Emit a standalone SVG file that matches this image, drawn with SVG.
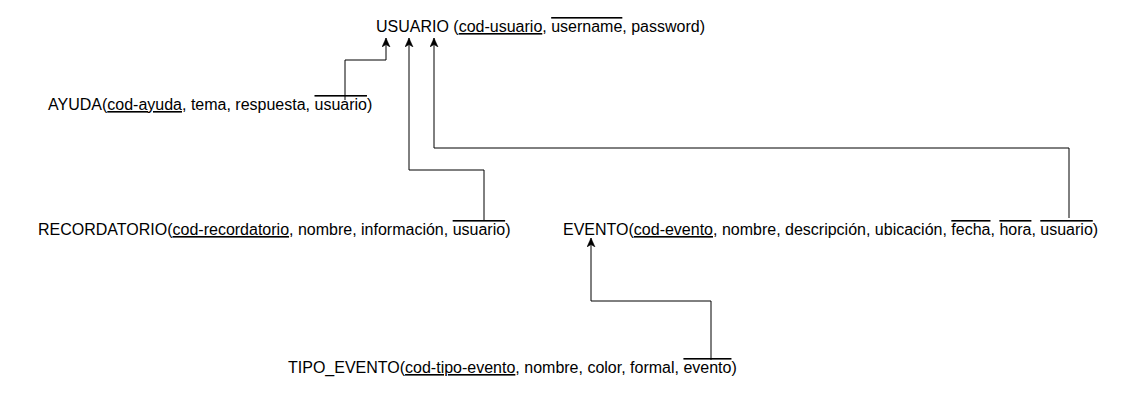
<svg xmlns="http://www.w3.org/2000/svg" width="1129" height="409" viewBox="0 0 1129 409">
<style>
text{font-family:"Liberation Sans",Arial,sans-serif;font-size:16px;fill:#000}
.u{text-decoration:underline}
.o{text-decoration:overline}
.c{fill:none;stroke:#000;stroke-width:1}
</style>
<defs>
<marker id="arr" markerUnits="userSpaceOnUse" markerWidth="10" markerHeight="10" refX="9" refY="4" orient="auto">
<path d="M0,0 L9,4 L0,8 L2.5,4 Z" fill="#000" stroke="#000" stroke-width="0.5"/>
</marker>
</defs>
<rect width="1129" height="409" fill="#fff"/>
<g id="connectors">
<path class="c" d="M345,100 V60 H386 V38" marker-end="url(#arr)"/>
<path class="c" d="M484,220 V170 H409 V38" marker-end="url(#arr)"/>
<path class="c" d="M1069,218 V148 H434 V38" marker-end="url(#arr)"/>
<path class="c" d="M711,360 V301 H591 V238" marker-end="url(#arr)"/>
</g>
<g id="usuario"><text x="376" y="32">USUARIO (<tspan class="u">cod-usuario</tspan>, <tspan class="o">username</tspan>, password)</text></g>
<g id="ayuda"><text x="48" y="110">AYUDA(<tspan class="u">cod-ayuda</tspan>, tema, respuesta, <tspan class="o">usuario</tspan>)</text></g>
<g id="recordatorio"><text x="38" y="235">RECORDATORIO(<tspan class="u">cod-recordatorio</tspan>, nombre, información, <tspan class="o">usuario</tspan>)</text></g>
<g id="evento"><text x="563" y="235">EVENTO(<tspan class="u">cod-evento</tspan>, nombre, descripción, ubicación, <tspan class="o">fecha</tspan>, <tspan class="o">hora</tspan>, <tspan class="o">usuario</tspan>)</text></g>
<g id="tipo_evento"><text x="288" y="373">TIPO_EVENTO(<tspan class="u">cod-tipo-evento</tspan>, nombre, color, formal, <tspan class="o">evento</tspan>)</text></g>
</svg>
